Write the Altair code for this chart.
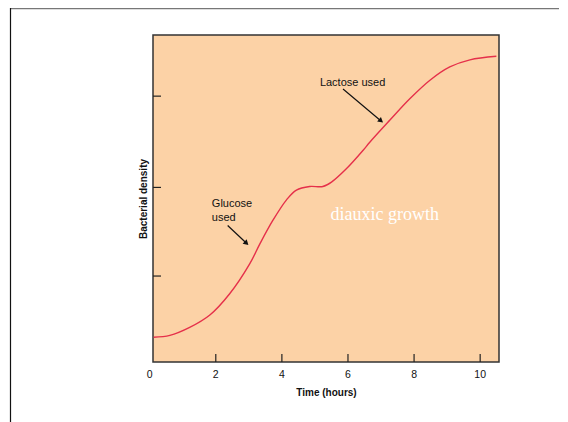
import altair as alt
import pandas as pd

# curve
time_h = [0.12, 0.61, 1.21, 1.82, 2.42, 3.03, 3.33, 3.73, 4.14, 4.44, 4.84, 5.24, 5.50, 5.95, 6.46, 6.66, 7.27, 7.87, 8.48, 9.08, 9.69, 10.49]
density = [0.28, 0.30, 0.39, 0.53, 0.77, 1.11, 1.33, 1.60, 1.83, 1.94, 1.98, 1.98, 2.03, 2.18, 2.39, 2.48, 2.73, 2.97, 3.18, 3.33, 3.41, 3.45]

x_ticks = [2, 4, 6, 8, 10]
x_labels = [0, 2, 4, 6, 8, 10]
y_ticks = [0.97, 1.97, 3.0]

# annotations
ann_text = ["Glucose", "used", "Lactose used"]
ann_x = [1.88, 1.88, 5.15]
ann_y = [1.78, 1.63, 3.15]

arrow_x = [2.36, 5.85]
arrow_y = [1.54, 3.08]
arrow_x2 = [2.93, 7.00]
arrow_y2 = [1.34, 2.72]
arrow_angle = [133, 130]

W, H = 346, 327
XD = [0.1, 10.57]
YD = [0, 3.69]
FONT = "Liberation Sans"

xs = alt.Scale(domain=XD, nice=False, zero=False)
ys = alt.Scale(domain=YD, nice=False, zero=False)

curve_df = pd.DataFrame({"t": time_h, "d": density})
curve = alt.Chart(curve_df).mark_line(color="#E5304A", strokeWidth=1.4, interpolate="catmull-rom").encode(
    x=alt.X("t:Q", scale=xs, axis=alt.Axis(labels=False, ticks=False, domain=False, grid=False,
                                            title="Time (hours)", titleFont=FONT,
                                            titleFontSize=10, titleFontWeight="bold", titleColor="#111",
                                            titlePadding=25)),
    y=alt.Y("d:Q", scale=ys, axis=alt.Axis(labels=False, ticks=False, domain=False, grid=False,
                                            title="Bacterial density", titleFont=FONT, titleFontSize=10,
                                            titleFontWeight="bold", titleColor="#111", titlePadding=5)),
)

xlab = alt.Chart(pd.DataFrame({"v": x_labels})).mark_text(
    font=FONT, fontSize=10.5, color="#111", baseline="middle", align="center", clip=False).encode(
    x=alt.X("v:Q", scale=xs), y=alt.value(H + 13), text="v:Q")

xt = alt.Chart(pd.DataFrame({"v": x_ticks})).mark_rule(color="#222", strokeWidth=1.2).encode(
    x=alt.X("v:Q", scale=xs), y=alt.value(H - 8), y2=alt.value(H))
yt = alt.Chart(pd.DataFrame({"v": y_ticks})).mark_rule(color="#222", strokeWidth=1.2).encode(
    y=alt.Y("v:Q", scale=ys), x=alt.value(0), x2=alt.value(8))

ann_df = pd.DataFrame({"txt": ann_text, "x": ann_x, "y": ann_y})
ann = alt.Chart(ann_df).mark_text(align="left", baseline="middle", font=FONT, fontSize=11, color="#111").encode(
    x=alt.X("x:Q", scale=xs), y=alt.Y("y:Q", scale=ys), text="txt:N")

big = alt.Chart(pd.DataFrame({"txt": ["diauxic growth"], "x": [7.11], "y": [1.66]})).mark_text(
    align="center", baseline="middle", font="Liberation Serif", fontSize=18, color="white").encode(
    x=alt.X("x:Q", scale=xs), y=alt.Y("y:Q", scale=ys), text="txt:N")

arr_df = pd.DataFrame({"x": arrow_x, "y": arrow_y, "x2": arrow_x2, "y2": arrow_y2, "a": arrow_angle})
shaft = alt.Chart(arr_df).mark_rule(color="#111", strokeWidth=1.2).encode(
    x=alt.X("x:Q", scale=xs), y=alt.Y("y:Q", scale=ys), x2="x2:Q", y2="y2:Q")
head = alt.Chart(arr_df).mark_point(shape="triangle-up", filled=True, color="#111", size=35, opacity=1).encode(
    x=alt.X("x2:Q", scale=xs), y=alt.Y("y2:Q", scale=ys), angle=alt.Angle("a:Q", scale=None))

frame_top = alt.Chart(pd.DataFrame({"k": [0]})).mark_rule(color="#777", strokeWidth=1.5).encode(
    x=alt.value(-143), x2=alt.value(420), y=alt.value(-26.5))
frame_left = alt.Chart(pd.DataFrame({"k": [0]})).mark_rule(color="#111", strokeWidth=1.2).encode(
    x=alt.value(-142.5), y=alt.value(-27), y2=alt.value(400))

chart = alt.layer(curve, xlab, xt, yt, ann, big, shaft, head, frame_top, frame_left).properties(
    width=W, height=H,
    background="white",
    autosize=alt.AutoSizeParams(type="none"),
    padding={"left": 145, "top": 27, "right": 60, "bottom": 60},
).configure_view(fill="#FCD2A6", stroke="#333", strokeWidth=1.5)

chart.save("out.html", embed_options={"renderer": "svg", "actions": False})
